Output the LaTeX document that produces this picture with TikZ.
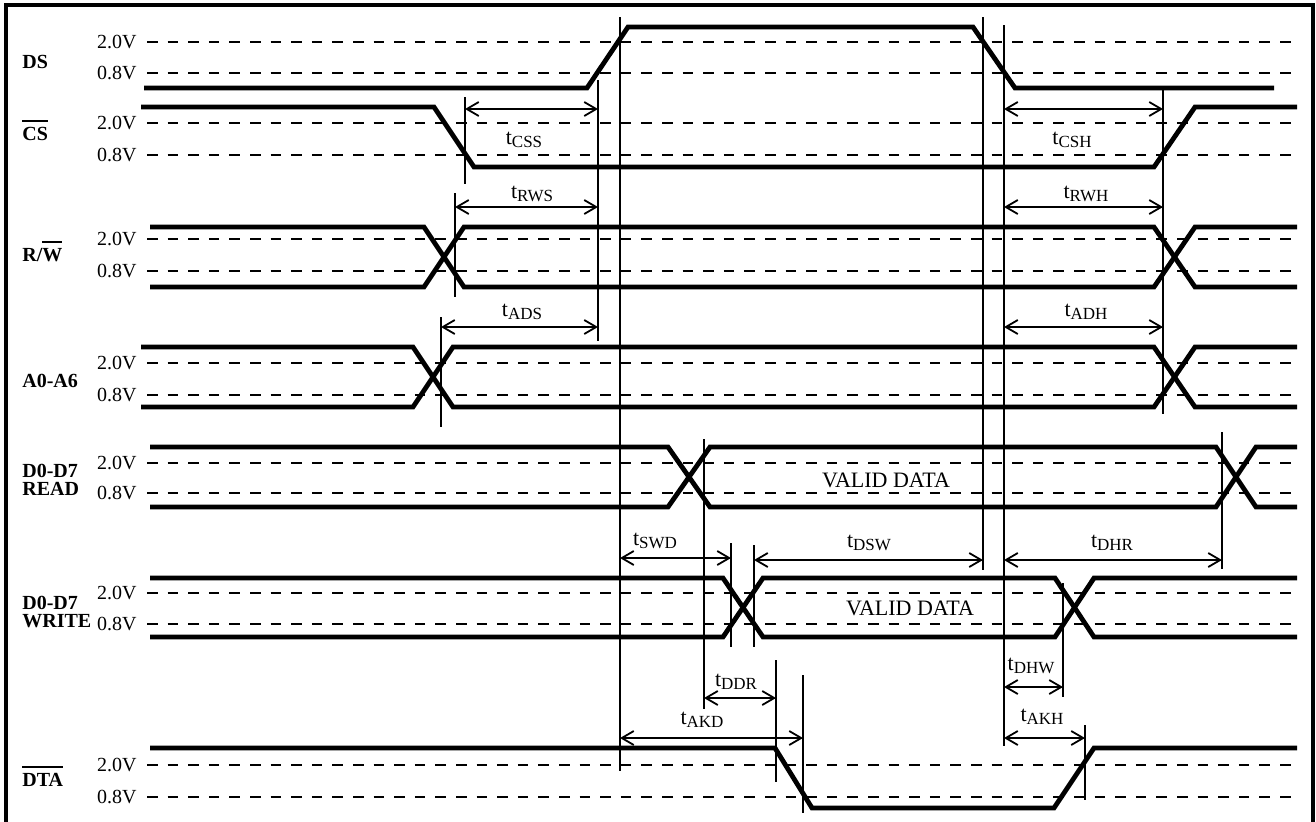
\documentclass[tikz,border=0pt]{standalone}
\usepackage{fontspec}
\setmainfont{Liberation Serif}
\usetikzlibrary{arrows.meta}
\newcommand{\ovl}[1]{\leavevmode\vbox{\hrule height 0.9pt\kern 2.6pt\hbox{#1}}}
\newcommand{\tsub}[1]{t\raisebox{-1.6pt}{\fontsize{8.5}{10}\selectfont #1}}
\begin{document}
\begin{tikzpicture}[x=0.5pt,y=-0.5pt,
  sig/.style={line width=2.4pt},
  lvl/.style={line width=0.7pt, dash pattern=on 5.3pt off 5pt},
  vline/.style={line width=1pt},
  dim/.style={line width=0.9pt, {Straight Barb[length=6pt,width=7pt]}-{Straight Barb[length=6pt,width=7pt]}},
  vlab/.style={font=\fontsize{10}{12}\selectfont, anchor=east, inner sep=0pt},
  slab/.style={font=\fontsize{10}{12}\selectfont\bfseries, anchor=base west, inner sep=0pt},
  tlab/.style={font=\fontsize{11}{13}\selectfont, inner sep=0pt},
  frame/.style={line width=1.8pt}]
\useasboundingbox (0,0) rectangle (1316,821);
\draw[frame] (6,5) rectangle (1313,850);

% voltage levels
\foreach \a/\b [count=\i] in {42/73,123/155,239/271,363/395,463/493,593/624,765/797} {
  \node[vlab] (hv\i) at (137,\a) {2.0V};
  \node[vlab] (lv\i) at (137,\b) {0.8V};
  \draw[lvl] (147,\a) -- (1296,\a);
  \draw[lvl] (147,\b) -- (1296,\b);
}

% signal names
\node[slab] (nDS) at (22,68) {DS};
\node[slab] (nCS) at (22,140) {\ovl{CS}};
\node[slab] (nRW) at (22,261) {R/\ovl{W}};
\node[slab] (nA) at (22,387) {A0-A6};
\node[slab] (nR1) at (22,477) {D0-D7};
\node[slab] (nR2) at (22,495) {READ};
\node[slab] (nW1) at (22,609) {D0-D7};
\node[slab] (nW2) at (22,627) {WRITE};
\node[slab] (nDTA) at (22,786) {\ovl{DTA}};

% waveforms
\draw[sig] (144,88) -- (587,88) -- (628,27) -- (973,27) -- (1015,88) -- (1274,88);
\draw[sig] (141,107) -- (434,107) -- (474,167) -- (1154,167) -- (1195,107) -- (1297,107);
\draw[sig] (150,227) -- (424,227) -- (464,287) -- (1154,287) -- (1195,227) -- (1297,227);
\draw[sig] (150,287) -- (424,287) -- (464,227) -- (1154,227) -- (1195,287) -- (1297,287);
\draw[sig] (141,347) -- (413,347) -- (453,407) -- (1154,407) -- (1195,347) -- (1297,347);
\draw[sig] (141,407) -- (413,407) -- (453,347) -- (1154,347) -- (1195,407) -- (1297,407);
\draw[sig] (150,447) -- (668,447) -- (710,507) -- (1216,507) -- (1256,447) -- (1297,447);
\draw[sig] (150,507) -- (668,507) -- (710,447) -- (1216,447) -- (1256,507) -- (1297,507);
\draw[sig] (150,578) -- (723,578) -- (763,637) -- (1055,637) -- (1094,578) -- (1297,578);
\draw[sig] (150,637) -- (723,637) -- (763,578) -- (1055,578) -- (1094,637) -- (1297,637);
\draw[sig] (150,748) -- (775,748) -- (812,808) -- (1054,808) -- (1094,748) -- (1297,748);

\node[tlab] (vd1) at (886,480) {VALID DATA};
\node[tlab] (vd2) at (910,608) {VALID DATA};

% timing reference lines
\foreach \n/\x/\t/\b in {a/465/97/184, b/598/80/341, c/620/17/771, d/983/17/570,
  e/1004/25/746, f/1163/88/414, g/455/193/297, h/441/317/427, i/704/439/709,
  j/1222/432/569, k/731/543/647, l/754/545/647, m/1063/583/697, n/776/660/782,
  o/803/675/813, p/1085/725/800} {
  \coordinate (T\n) at (\x,\t);
  \coordinate (B\n) at (\x,\b);
  \draw[vline] (T\n) -- (B\n);
}

% dimension arrows
\draw[dim] (Ta |- 0,109) -- (Tb |- 0,109);
\draw[dim] (Te |- 0,109) -- (Tf |- 0,109);
\draw[dim] (Tg |- 0,207) -- (Tb |- 0,207);
\draw[dim] (Te |- 0,207) -- (Tf |- 0,207);
\draw[dim] (Th |- 0,327) -- (Tb |- 0,327);
\draw[dim] (Te |- 0,327) -- (Tf |- 0,327);
\draw[dim] (Tc |- 0,558) -- (Tk |- 0,558);
\draw[dim] (Tl |- 0,560) -- (Td |- 0,560);
\draw[dim] (Te |- 0,560) -- (Tj |- 0,560);
\draw[dim] (Ti |- 0,698) -- (Tn |- 0,698);
\draw[dim] (Te |- 0,687) -- (Tm |- 0,687);
\draw[dim] (Tc |- 0,738) -- (To |- 0,738);
\draw[dim] (Te |- 0,738) -- (Tp |- 0,738);

% timing labels
\node[tlab] (tcss) at (524,140) {\tsub{CSS}};
\node[tlab] (tcsh) at (1072,140) {\tsub{CSH}};
\node[tlab] (trws) at (532,194) {\tsub{RWS}};
\node[tlab] (trwh) at (1086,194) {\tsub{RWH}};
\node[tlab] (tads) at (522,312) {\tsub{ADS}};
\node[tlab] (tadh) at (1086,312) {\tsub{ADH}};
\node[tlab] (tswd) at (655,541) {\tsub{SWD}};
\node[tlab] (tdsw) at (869,543) {\tsub{DSW}};
\node[tlab] (tdhr) at (1112,543) {\tsub{DHR}};
\node[tlab] (tddr) at (736,682) {\tsub{DDR}};
\node[tlab] (tdhw) at (1031,666) {\tsub{DHW}};
\node[tlab] (takd) at (702,720) {\tsub{AKD}};
\node[tlab] (takh) at (1042,717) {\tsub{AKH}};
\end{tikzpicture}
\end{document}
